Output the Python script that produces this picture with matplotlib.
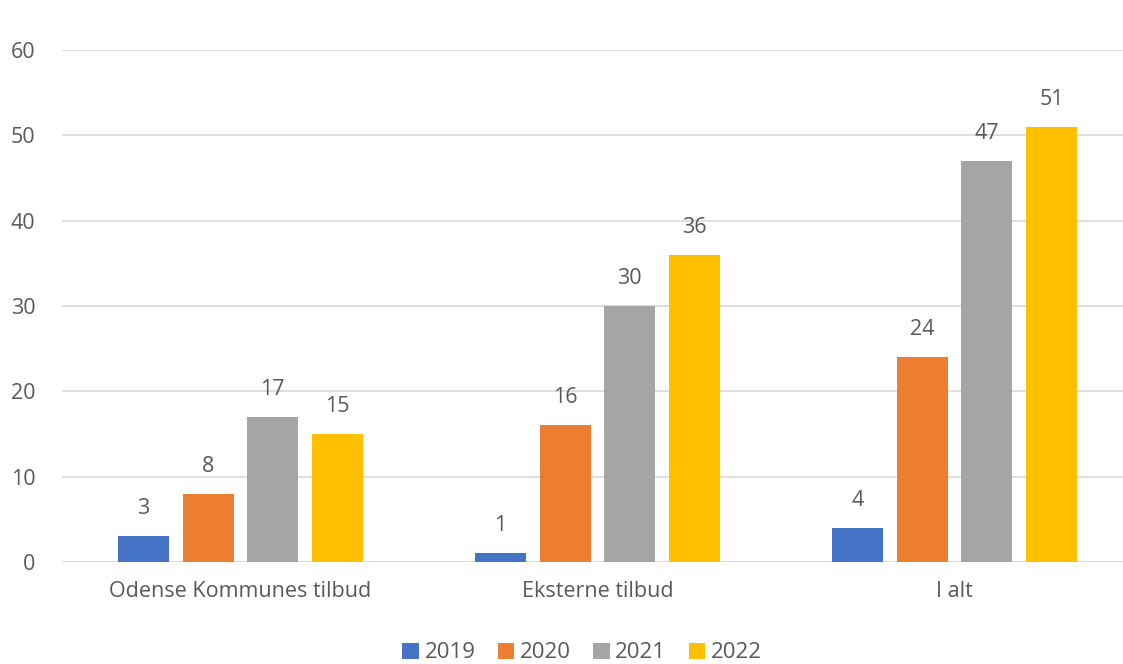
import numpy as np
import matplotlib.pyplot as plt

categories = ['Odense Kommunes tilbud', 'Eksterne tilbud', 'I alt']
years = ['2019', '2020', '2021', '2022']
v2019 = [3, 1, 4]
v2020 = [8, 16, 24]
v2021 = [17, 30, 47]
v2022 = [15, 36, 51]
colors = ['#4472C4', '#ED7D31', '#A5A5A5', '#FFC000']

plt.rcParams['font.family'] = ['Open Sans', 'DejaVu Sans']
txt = '#595959'

fig = plt.figure(figsize=(11.23, 6.64), dpi=100)
ax = fig.add_axes([62/1123, 1-562/664, 1071/1123, 512/664])

x = np.arange(len(categories))
w = 0.143
step = 0.181
series = [v2019, v2020, v2021, v2022]
for i, vals in enumerate(series):
    pos = x + (i - 1.5) * step
    bars = ax.bar(pos, vals, w, color=colors[i], label=years[i], zorder=3)
    for b, v in zip(bars, vals):
        ax.text(b.get_x() + b.get_width()/2, v + 2.0, str(v), ha='center', va='bottom',
                fontsize=15.5, color=txt)

ax.set_xlim(-0.5, 2.5)
ax.set_ylim(0, 60)
ax.set_yticks(range(0, 61, 10))
ax.yaxis.grid(True, color='#d9d9d9', linewidth=1.2, zorder=0)
for s in ax.spines.values():
    s.set_visible(False)
ax.tick_params(axis='both', length=0, labelsize=15.5, colors=txt)
ax.tick_params(axis='y', pad=19)
ax.tick_params(axis='x', pad=14)
ax.set_xticks(x)
ax.set_xticklabels(categories)
ax.axhline(0, color='#d9d9d9', linewidth=1.2, zorder=2)

leg = fig.legend(loc='center', bbox_to_anchor=(582/1123, 1-653/664), ncol=4, frameon=False,
                 fontsize=16, handlelength=0.75, handleheight=0.75, handletextpad=0.25,
                 columnspacing=1.0, labelcolor=txt)

fig.savefig('out.png', dpi=100)
